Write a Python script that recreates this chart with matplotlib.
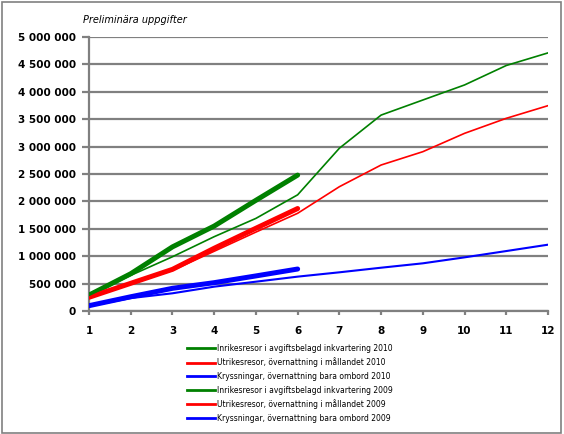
import matplotlib.pyplot as plt
from matplotlib.lines import Line2D
from matplotlib.patches import Rectangle
from matplotlib.ticker import FuncFormatter

months = list(range(1, 13))

inrikes_2010 = [290000, 680000, 1170000, 1550000, 2020000, 2480000]
utrikes_2010 = [250000, 505000, 760000, 1145000, 1510000, 1870000]
kryss_2010 = [97000, 260000, 414000, 517000, 640000, 766000]

inrikes_2009 = [285000, 650000, 990000, 1356000, 1690000, 2120000,
                2970000, 3575000, 3850000, 4125000, 4480000, 4710000]
utrikes_2009 = [240000, 495000, 740000, 1090000, 1440000, 1783000,
                2268000, 2664000, 2907000, 3242000, 3516000, 3747000]
kryss_2009 = [90000, 235000, 323000, 444000, 535000, 627000,
              706000, 790000, 870000, 979000, 1094000, 1210000]

labels = [
    "Inrikesresor i avgiftsbelagd inkvartering 2010",
    "Utrikesresor, övernattning i mållandet 2010",
    "Kryssningar, övernattning bara ombord 2010",
    "Inrikesresor i avgiftsbelagd inkvartering 2009",
    "Utrikesresor, övernattning i mållandet 2009",
    "Kryssningar, övernattning bara ombord 2009",
]

green = "#008000"
red = "#ff0000"
blue = "#0000ff"
grey = "#808080"

fig = plt.figure(figsize=(5.64, 4.34), dpi=100)
fig.patches.append(Rectangle((2 / 564, 1 / 434), 559 / 564, 431 / 434,
                             transform=fig.transFigure, fill=False,
                             edgecolor=grey, linewidth=1.2))

ax = fig.add_axes([89 / 564, 123 / 434, 459 / 564, 274 / 434])

n10 = len(inrikes_2010)
ax.plot(months[:n10], inrikes_2010, color=green, lw=3.6, solid_capstyle="round", zorder=3)
ax.plot(months[:n10], utrikes_2010, color=red, lw=3.6, solid_capstyle="round", zorder=3)
ax.plot(months[:n10], kryss_2010, color=blue, lw=3.6, solid_capstyle="round", zorder=3)
ax.plot(months, inrikes_2009, color=green, lw=1.2, zorder=4)
ax.plot(months, utrikes_2009, color=red, lw=1.2, zorder=4)
ax.plot(months, kryss_2009, color=blue, lw=1.5, zorder=4)

ax.set_xlim(1, 12)
ax.set_ylim(0, 5000000)
ax.set_xticks(months)
ax.set_yticks(range(0, 5000001, 500000))
ax.yaxis.set_major_formatter(FuncFormatter(lambda v, p: f"{int(v):,}".replace(",", " ")))

ax.grid(axis="y", color=grey, lw=1.6)
ax.set_axisbelow(True)
for s in ("top", "right"):
    ax.spines[s].set_visible(False)
for s in ("left", "bottom"):
    ax.spines[s].set_color(grey)
    ax.spines[s].set_linewidth(1.6)
ax.tick_params(axis="y", length=5, width=1.6, color=grey, pad=4.5, labelsize=7.5)
ax.tick_params(axis="x", length=3, width=1.6, color=grey, pad=8, labelsize=7.5)
for t in ax.get_xticklabels() + ax.get_yticklabels():
    t.set_fontweight("bold")

fig.text(83 / 564, 1 - 20 / 434, "Preliminära uppgifter", style="italic",
         fontsize=7, va="center", ha="left")

handles = [Line2D([], [], color=c, lw=2) for c in (green, red, blue, green, red, blue)]
fig.legend(handles, labels, loc="upper left", bbox_to_anchor=(187 / 564, 1 - 344 / 434),
           frameon=False, fontsize=5.5, handlelength=3.7, handletextpad=0.25,
           labelspacing=0.6, borderpad=0, borderaxespad=0)

fig.savefig("out.png", dpi=100)
